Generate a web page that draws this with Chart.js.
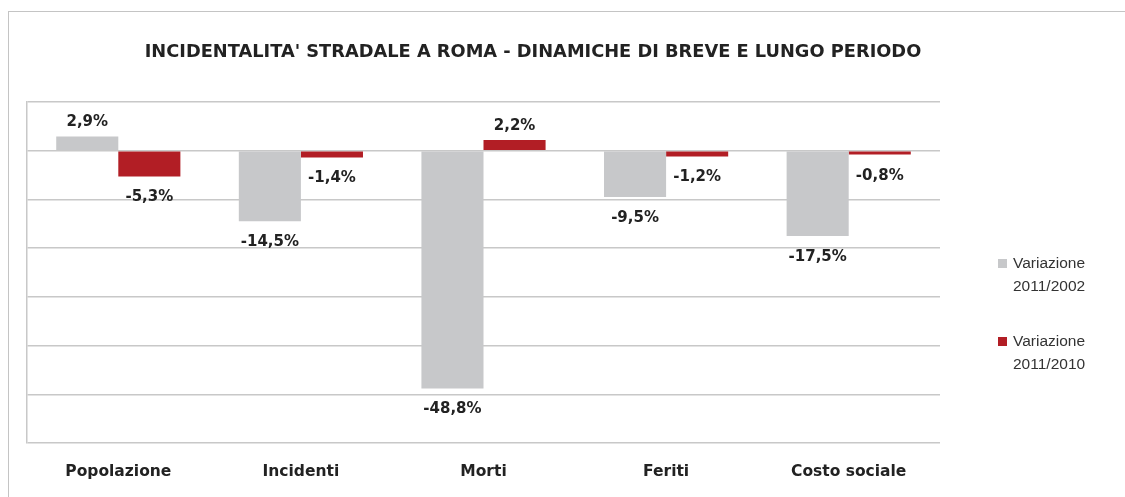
<!DOCTYPE html>
<html>
<head>
<meta charset="utf-8">
<script src="https://cdn.jsdelivr.net/npm/chart.js@4"></script>
<style>
  html, body { margin: 0; padding: 0; background: #fff; }
  #wrap { position: relative; width: 1125px; height: 497px; overflow: hidden; }
  #frame { position: absolute; left: 8px; top: 11px; width: 1200px; height: 600px; border: 1px solid #c4c4c4; }
  #BarChart { position: absolute; left: 0; top: 0; }
</style>
</head>
<body>
<div id="wrap">
  <div id="frame"></div>
  <canvas id="BarChart" width="1125" height="497"></canvas>
</div>
<script>
var titolo = "INCIDENTALITA' STRADALE A ROMA - DINAMICHE DI BREVE E LUNGO PERIODO";
var categorie = ['Popolazione', 'Incidenti', 'Morti', 'Feriti', 'Costo sociale'];
var serieNomi = [['Variazione', '2011/2002'], ['Variazione', '2011/2010']];
var var2002 = [2.9, -14.5, -48.8, -9.5, -17.5];
var var2010 = [-5.3, -1.4, 2.2, -1.2, -0.8];

var fontBold = '"DejaVu Sans", sans-serif';

// etichette dei valori sopra/sotto le barre
var etichette = {
    id: 'etichette',
    afterDatasetsDraw: function (chart) {
        var ctx = chart.ctx;
        ctx.save();
        ctx.font = 'bold 15px ' + fontBold;
        ctx.fillStyle = '#222';
        ctx.textAlign = 'center';
        ctx.textBaseline = 'middle';
        chart.data.datasets.forEach(function (ds, i) {
            chart.getDatasetMeta(i).data.forEach(function (bar, j) {
                var v = ds.data[j];
                var txt = v.toFixed(1).replace('.', ',') + '%';
                var y = v >= 0 ? bar.y - 14 : bar.y + 21;
                ctx.fillText(txt, bar.x, y);
            });
        });
        ctx.restore();
    }
};

// titolo e legenda a destra
var decorazioni = {
    id: 'decorazioni',
    afterDraw: function (chart) {
        var ctx = chart.ctx;
        ctx.save();
        ctx.fillStyle = '#222';
        ctx.font = 'bold 17.8px ' + fontBold;
        ctx.textAlign = 'center';
        ctx.textBaseline = 'middle';
        ctx.fillText(titolo, 533, 52);

        ctx.font = '15.5px "Liberation Sans", Arial, sans-serif';
        ctx.textAlign = 'left';
        var tops = [264, 342];
        chart.data.datasets.forEach(function (ds, i) {
            ctx.fillStyle = ds.backgroundColor;
            ctx.fillRect(998, tops[i] - 5, 9, 9);
            ctx.fillStyle = '#333';
            serieNomi[i].forEach(function (r, k) {
                ctx.fillText(r, 1013, tops[i] + k * 23);
            });
        });
        ctx.restore();
    }
};

var Barctx = document.getElementById('BarChart');
var dataBar = {
    labels: categorie,
    datasets: [
        {
            label: serieNomi[0].join(' '),
            backgroundColor: 'rgb(199, 200, 202)',
            data: var2002
        },
        {
            label: serieNomi[1].join(' '),
            backgroundColor: 'rgb(178, 30, 37)',
            data: var2010
        }
    ]
};
var myBarChart = new Chart(Barctx, {
    type: 'bar',
    data: dataBar,
    options: {
        responsive: false,
        animation: false,
        categoryPercentage: 0.68,
        barPercentage: 1.0,
        layout: { padding: { left: 27, right: 185, top: 102, bottom: 0 } },
        plugins: {
            legend: { display: false },
            title: { display: false },
            tooltip: { enabled: false }
        },
        scales: {
            x: {
                grid: { display: false, drawTicks: false },
                border: { display: false },
                ticks: {
                    padding: 20,
                    color: '#222',
                    font: { family: fontBold, size: 15.5, weight: 'bold' }
                },
                afterFit: function (s) { s.height = 54; }
            },
            y: {
                min: -60,
                max: 10,
                ticks: { display: false, stepSize: 10 },
                grid: { color: '#c8c8c8', lineWidth: 1.5, drawTicks: false },
                border: { display: true, color: '#c8c8c8', width: 1.5 },
                afterFit: function (s) { s.width = 0; }
            }
        }
    },
    plugins: [etichette, decorazioni]
});
</script>
</body>
</html>
